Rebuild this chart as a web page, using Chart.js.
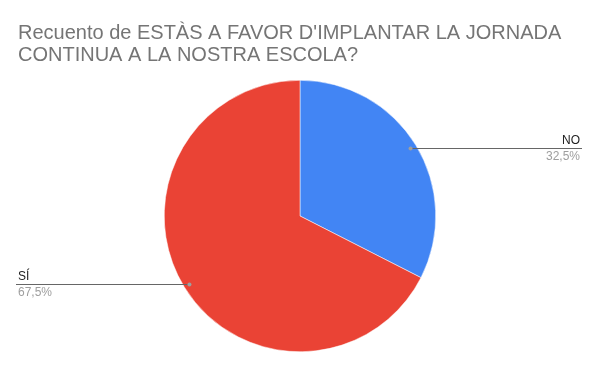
<!DOCTYPE html>
<html>
<head>
<meta charset="utf-8">
<script src="https://cdn.jsdelivr.net/npm/chart.js@4/dist/chart.umd.min.js"></script>
<style>
  body { margin: 0; background: #fff; }
  canvas { display: block; }
</style>
</head>
<body>
<canvas id="pieChart" width="600" height="371"></canvas>
<script>
const titleLines = ["Recuento de ESTÀS A FAVOR D'IMPLANTAR LA JORNADA", 'CONTINUA A LA NOSTRA ESCOLA?'];
const categories = ['NO', 'SÍ'];
const values = [32.5, 67.5];
const sliceColors = ['#4285F4', '#EA4335'];

const fontFamily = "'Liberation Sans', Arial, sans-serif";

// leader lines + labels, drawn from each arc's own geometry
const sliceLabels = {
    id: 'sliceLabels',
    afterDatasetsDraw(chart) {
        const ctx = chart.ctx;
        const meta = chart.getDatasetMeta(0);
        const total = values.reduce((a, b) => a + b, 0);
        meta.data.forEach((arc, i) => {
            const mid = (arc.startAngle + arc.endAngle) / 2;
            const r = arc.outerRadius * 0.955;
            const px = arc.x + Math.cos(mid) * r;
            const py = arc.y + Math.sin(mid) * r;
            const right = Math.cos(mid) > 0;
            const lineEnd = right ? 582 : 16;
            const textX = right ? 580 : 18;
            const pct = (values[i] / total * 100).toFixed(1).replace('.', ',') + '%';

            ctx.save();
            ctx.strokeStyle = '#666666';
            ctx.lineWidth = 1;
            ctx.beginPath();
            ctx.moveTo(px, Math.round(py) + 0.5);
            ctx.lineTo(lineEnd, Math.round(py) + 0.5);
            ctx.stroke();

            ctx.fillStyle = '#9e9e9e';
            ctx.beginPath();
            ctx.arc(px, Math.round(py) + 0.5, 2, 0, Math.PI * 2);
            ctx.fill();

            ctx.font = '12px ' + fontFamily;
            ctx.textAlign = right ? 'right' : 'left';
            ctx.textBaseline = 'alphabetic';
            ctx.fillStyle = '#222222';
            ctx.fillText(categories[i], textX, Math.round(py) - 4);
            ctx.fillStyle = '#9e9e9e';
            ctx.fillText(pct, textX, Math.round(py) + 12);
            ctx.restore();
        });
    }
};

const ctx = document.getElementById('pieChart').getContext('2d');
new Chart(ctx, {
    type: 'pie',
    data: {
        labels: categories,
        datasets: [{
            data: values,
            backgroundColor: sliceColors,
            borderColor: '#ffffff',
            borderWidth: 0.5
        }]
    },
    options: {
        responsive: false,
        animation: false,
        devicePixelRatio: 1,
        layout: {
            padding: { top: 0, bottom: 19, left: 18, right: 18 }
        },
        plugins: {
            legend: { display: false },
            tooltip: { enabled: false },
            title: {
                display: true,
                text: titleLines,
                align: 'start',
                color: '#757575',
                font: { family: fontFamily, size: 20, weight: 'normal', lineHeight: 1.1 },
                padding: { top: 22, bottom: 14 }
            }
        }
    },
    plugins: [sliceLabels]
});
</script>
</body>
</html>
